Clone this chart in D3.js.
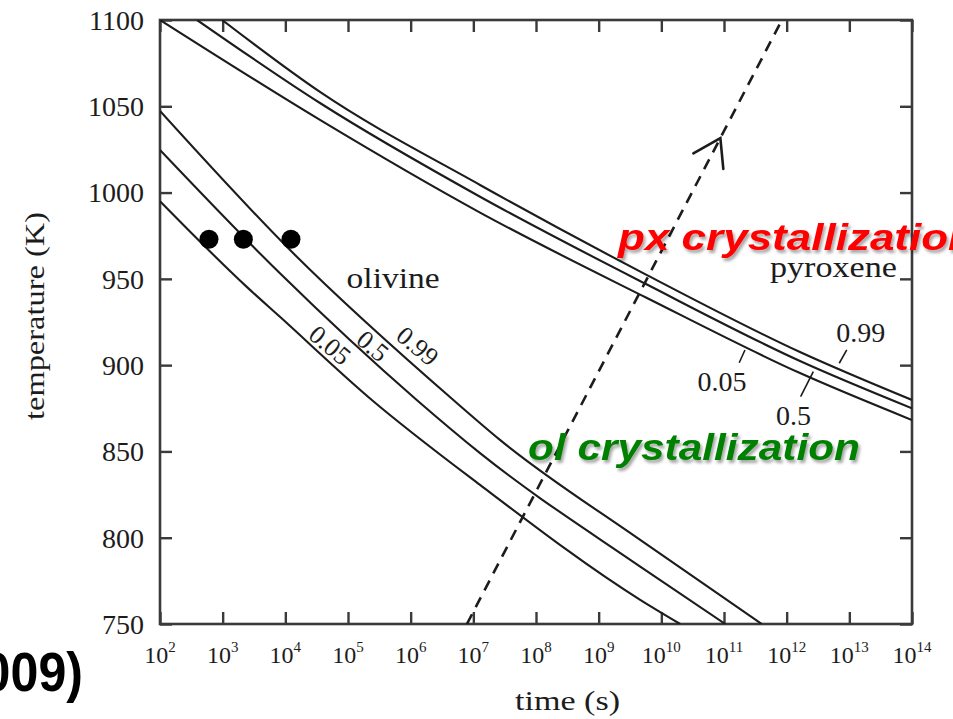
<!DOCTYPE html>
<html>
<head>
<meta charset="utf-8">
<script src="https://cdn.jsdelivr.net/npm/d3@7"></script>
<style>
  html, body { margin: 0; padding: 0; background: #fff; }
  svg { display: block; }
</style>
</head>
<body>
<svg id="chart" width="953" height="719"></svg>
<script>
// ---- axis ticks ----
const timeTicks = [1e2, 1e3, 1e4, 1e5, 1e6, 1e7, 1e8, 1e9, 1e10, 1e11, 1e12, 1e13, 1e14];
const timeTickExponents = ["2", "3", "4", "5", "6", "7", "8", "9", "10", "11", "12", "13", "14"];
const tempTicks = [750, 800, 850, 900, 950, 1000, 1050, 1100];

// ---- olivine crystallization curves (time in s, temperature in K) ----
const olivineFractions = ["0.05", "0.5", "0.99"];
const olivine005Time = [1e2, 2.4e3, 8.2e3, 2.2e5, 1.28e7, 4.6e9, 2.0e10];
const olivine005Temp = [995, 945.5, 928, 881, 830.6, 764, 750];
const olivine05Time  = [1e2, 8.2e3, 1.25e6, 1.28e7, 4.6e9, 1.05e11];
const olivine05Temp  = [1024.7, 953.2, 879.8, 849, 783.3, 750];
const olivine099Time = [1e2, 1.19e4, 4.8e6, 2.66e7, 4.6e9, 4.0e11];
const olivine099Temp = [1047.3, 966.7, 879.8, 856.7, 798.7, 750];

// ---- pyroxene crystallization curves ----
const pyroxeneFractions = ["0.05", "0.5", "0.99"];
const pyroxene005Time = [1e2, 3.57e4, 1.28e7, 5.9e9, 1.63e12, 1e14];
const pyroxene005Temp = [1100, 1042.1, 988.4, 938.9, 895.4, 868.2];
const pyroxene05Time  = [3.9e2, 3.57e4, 1.28e7, 5.9e9, 1.63e12, 1e14];
const pyroxene05Temp  = [1100, 1051.9, 997.6, 946.7, 902.4, 875.0];
const pyroxene099Time = [9.8e2, 3.57e4, 1.28e7, 5.9e9, 1.63e12, 1e14];
const pyroxene099Temp = [1100, 1058.3, 1004.4, 952.2, 907.6, 879.8];

// ---- experimental runs at 973 K ----
const runTime = [605, 2140, 12300];
const runTemp = [973, 973, 973];

// ---- thermal path (dashed) ----
const pathTime = [7.9e6, 8.4e11];
const pathTemp = [750, 1100];

// ---- layout ----
const svg = d3.select("#chart");
const W = 953, H = 719;
const margin = { left: 160, top: 20, right: 41, bottom: 95 };
const x0 = margin.left, x1 = W - margin.right;
const y0 = margin.top, y1 = H - margin.bottom;

const x = d3.scaleLog().domain([1e2, 1e14]).range([x0, x1]);
const y = d3.scaleLinear().domain([750, 1100]).range([y1, y0]);

const serif = "'Liberation Serif', 'Times New Roman', serif";
const sans = "'Liberation Sans', Arial, sans-serif";
const ink = "#1c1c1c";
const axisInk = "#3a3a3a";

svg.append("rect").attr("width", W).attr("height", H).attr("fill", "#fff");

const defs = svg.append("defs");
defs.append("clipPath").attr("id", "plotClip")
  .append("rect").attr("x", x0).attr("y", y0).attr("width", x1 - x0).attr("height", y1 - y0);
const shadow = defs.append("filter").attr("id", "textShadow")
  .attr("x", "-10%").attr("y", "-30%").attr("width", "130%").attr("height", "170%");
shadow.append("feDropShadow").attr("dx", 2).attr("dy", 3).attr("stdDeviation", 1.4)
  .attr("flood-color", "#000").attr("flood-opacity", 0.35);

// ---- axes (inward ticks on all four sides) ----
function styleAxis(g) {
  g.select(".domain").remove();
  g.selectAll(".tick line").attr("stroke", axisInk).attr("stroke-width", 2.4);
  g.selectAll(".tick text").remove();
}
svg.append("g").attr("transform", `translate(0,${y1})`)
  .call(d3.axisBottom(x).tickValues(timeTicks).tickSize(-12)).call(styleAxis);
svg.append("g").attr("transform", `translate(0,${y0})`)
  .call(d3.axisTop(x).tickValues(timeTicks).tickSize(-12)).call(styleAxis);
svg.append("g").attr("transform", `translate(${x0},0)`)
  .call(d3.axisLeft(y).tickValues(tempTicks).tickSize(-12)).call(styleAxis);
svg.append("g").attr("transform", `translate(${x1},0)`)
  .call(d3.axisRight(y).tickValues(tempTicks).tickSize(-12)).call(styleAxis);

svg.append("rect")
  .attr("x", x0).attr("y", y0).attr("width", x1 - x0).attr("height", y1 - y0)
  .attr("fill", "none").attr("stroke", axisInk).attr("stroke-width", 2.6);

// x tick labels: 10 with superscript exponent
const xLabels = svg.append("g").attr("font-family", serif).attr("fill", ink);
timeTicks.forEach((t, i) => {
  const txt = xLabels.append("text")
    .attr("x", x(t)).attr("y", y1 + 39)
    .attr("text-anchor", "middle").attr("font-size", 24);
  txt.append("tspan").text("10");
  txt.append("tspan").attr("font-size", 15).attr("dy", -11).text(timeTickExponents[i]);
});

// y tick labels
svg.append("g").attr("font-family", serif).attr("fill", ink)
  .selectAll("text").data(tempTicks).join("text")
  .attr("x", x0 - 16).attr("y", d => y(d)).attr("dy", "0.35em")
  .attr("text-anchor", "end").attr("font-size", 28)
  .text(d => d);

// axis titles
svg.append("text")
  .attr("x", 567.5).attr("y", 710)
  .attr("text-anchor", "middle").attr("font-family", serif).attr("font-size", 28)
  .attr("fill", ink).attr("textLength", 105).attr("lengthAdjust", "spacingAndGlyphs")
  .text("time (s)");
svg.append("text")
  .attr("transform", "translate(44,316) rotate(-90)")
  .attr("text-anchor", "middle").attr("font-family", serif).attr("font-size", 28)
  .attr("fill", ink).attr("textLength", 208).attr("lengthAdjust", "spacingAndGlyphs")
  .text("temperature (K)");

// ---- curves ----
const zip = (ts, vs) => ts.map((t, i) => [t, vs[i]]);
const curveLine = d3.line().x(d => x(d[0])).y(d => y(d[1])).curve(d3.curveMonotoneX);
const curves = [
  zip(olivine005Time, olivine005Temp), zip(olivine05Time, olivine05Temp), zip(olivine099Time, olivine099Temp),
  zip(pyroxene005Time, pyroxene005Temp), zip(pyroxene05Time, pyroxene05Temp), zip(pyroxene099Time, pyroxene099Temp)
];
const plot = svg.append("g").attr("clip-path", "url(#plotClip)");
plot.selectAll("path.ttt").data(curves).join("path")
  .attr("class", "ttt")
  .attr("d", curveLine)
  .attr("fill", "none").attr("stroke", ink).attr("stroke-width", 2.1);

// thermal path with open arrowhead
const pathPts = zip(pathTime, pathTemp);
plot.append("path")
  .attr("d", d3.line().x(d => x(d[0])).y(d => y(d[1]))(pathPts))
  .attr("fill", "none").attr("stroke", ink).attr("stroke-width", 2.6)
  .attr("stroke-dasharray", "11,8");
{
  const p0 = [x(pathTime[0]), y(pathTemp[0])];
  const p1 = [x(pathTime[1]), y(pathTemp[1])];
  const f = (1031.6 - pathTemp[0]) / (pathTemp[1] - pathTemp[0]);
  const tip = [p0[0] + f * (p1[0] - p0[0]), p0[1] + f * (p1[1] - p0[1])];
  const ang = Math.atan2(p0[1] - p1[1], p0[0] - p1[0]);
  const spread = 33 * Math.PI / 180, len = 31;
  const a1 = [tip[0] + len * Math.cos(ang + spread), tip[1] + len * Math.sin(ang + spread)];
  const a2 = [tip[0] + len * Math.cos(ang - spread), tip[1] + len * Math.sin(ang - spread)];
  plot.append("path")
    .attr("d", `M${a1[0]},${a1[1]}L${tip[0]},${tip[1]}L${a2[0]},${a2[1]}`)
    .attr("fill", "none").attr("stroke", ink).attr("stroke-width", 2.6)
    .attr("stroke-linecap", "round").attr("stroke-linejoin", "miter");
}

// experimental runs
svg.append("g").selectAll("circle").data(zip(runTime, runTemp)).join("circle")
  .attr("cx", d => x(d[0])).attr("cy", d => y(d[1])).attr("r", 9.5)
  .attr("fill", "#000");

// ---- curve labels ----
const labels = svg.append("g").attr("font-family", serif).attr("fill", ink);
labels.append("text").attr("x", x(9.5e4)).attr("y", y(944.5))
  .attr("font-size", 30).attr("textLength", 93).attr("lengthAdjust", "spacingAndGlyphs")
  .text("olivine");
labels.append("text").attr("x", x(5.4e11)).attr("y", y(951.3))
  .attr("font-size", 30).attr("textLength", 127).attr("lengthAdjust", "spacingAndGlyphs")
  .text("pyroxene");

// olivine fraction labels, written along the curves
const olivineLabelPos = [[5.2e4, 911.7], [2.5e5, 911.2], [1.3e6, 911.2]];
olivineFractions.forEach((lab, i) => {
  const [t, v] = olivineLabelPos[i];
  labels.append("text")
    .attr("transform", `translate(${x(t)},${y(v)}) rotate(40)`)
    .attr("text-anchor", "middle").attr("dy", "0.35em").attr("font-size", 26)
    .text(lab);
});

// pyroxene fraction labels with leader lines
const pyroxeneLabelPos = [[9.3e10, 885.2], [1.28e12, 865.3], [1.52e13, 913.6]];
const pyroxeneLeaders = [
  [[1.75e11, 901.4], [2.16e11, 908.8]],
  [[1.67e12, 881.7], [2.66e12, 896.2]],
  [[6.9e12, 901.1], [9.1e12, 908.8]]
];
pyroxeneFractions.forEach((lab, i) => {
  const [t, v] = pyroxeneLabelPos[i];
  labels.append("text").attr("x", x(t)).attr("y", y(v))
    .attr("text-anchor", "middle").attr("font-size", 28).text(lab);
  const [a, b] = pyroxeneLeaders[i];
  labels.append("line")
    .attr("x1", x(a[0])).attr("y1", y(a[1])).attr("x2", x(b[0])).attr("y2", y(b[1]))
    .attr("stroke", ink).attr("stroke-width", 1.6);
});

// ---- phase annotations ----
svg.append("text")
  .attr("x", 618).attr("y", 250)
  .attr("font-family", sans).attr("font-weight", "bold").attr("font-style", "italic")
  .attr("font-size", 37).attr("fill", "#ff0000")
  .attr("textLength", 357).attr("lengthAdjust", "spacingAndGlyphs")
  .attr("filter", "url(#textShadow)")
  .text("px crystallization");
svg.append("text")
  .attr("x", 528).attr("y", 460)
  .attr("font-family", sans).attr("font-weight", "bold").attr("font-style", "italic")
  .attr("font-size", 36).attr("fill", "#008000")
  .attr("textLength", 332).attr("lengthAdjust", "spacingAndGlyphs")
  .attr("filter", "url(#textShadow)")
  .text("ol crystallization");

// citation year
svg.append("text")
  .attr("x", 83).attr("y", 691)
  .attr("text-anchor", "end")
  .attr("font-family", sans).attr("font-weight", "bold").attr("font-size", 55)
  .attr("fill", "#000")
  .attr("textLength", 145).attr("lengthAdjust", "spacingAndGlyphs")
  .text("(2009)");
</script>
</body>
</html>
